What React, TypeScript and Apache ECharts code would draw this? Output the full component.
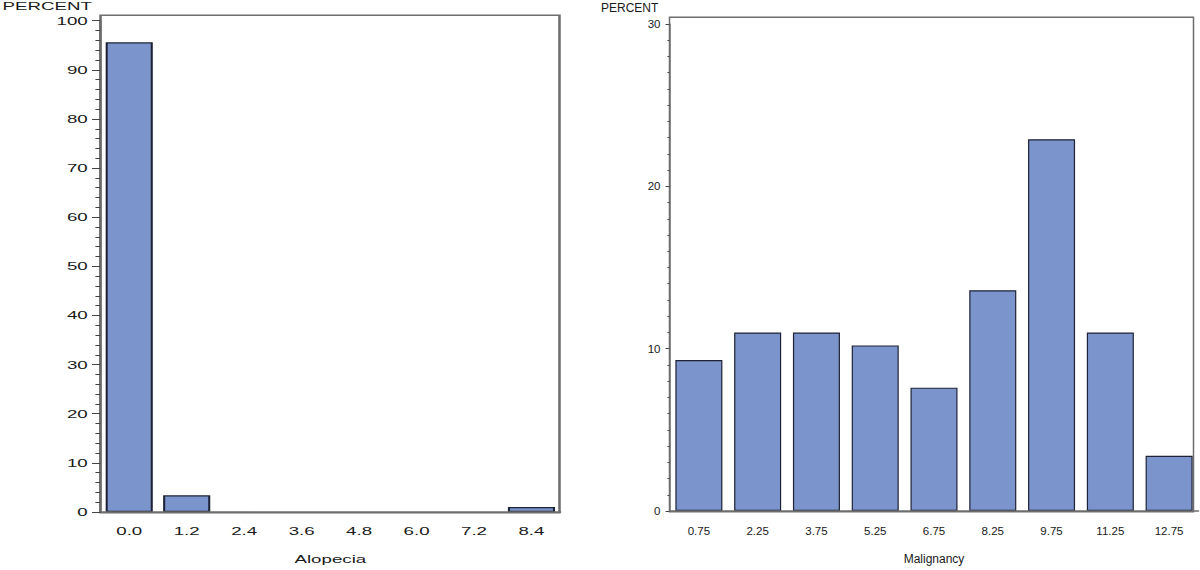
import React, { useEffect, useRef } from "react";
import * as echarts from "echarts";

const alopeciaBins = ["0.0", "1.2", "2.4", "3.6", "4.8", "6.0", "7.2", "8.4"];
const alopeciaPercent = [95.6, 3.4, 0, 0, 0, 0, 0, 1.0];
const malignancyBins = ["0.75", "2.25", "3.75", "5.25", "6.75", "8.25", "9.75", "11.25", "12.75"];
const malignancyPercent = [9.3, 11.0, 11.0, 10.2, 7.6, 13.6, 22.9, 11.0, 3.4];
const yTitle = "PERCENT";
const leftXTitle = "Alopecia";
const rightXTitle = "Malignancy";

const FONT = "'Liberation Sans', Arial, sans-serif";
const BAR_FILL = "#7b94cb";
const BAR_EDGE = "#1e2236";
const FRAME = "#6e6e6e";
const TEXT = "#1a1a1a";
const STRETCH = 1.7;

type Panel = {
  cats: string[];
  vals: number[];
  xName: string;
  yMax: number;
  interval: number;
  minorSplit: number;
  grid: { left: number; top: number; width: number; height: number };
  frame: { left: number; top: number; width: number; height: number };
  titlePos: { left: number; top: number };
  tickLen: number;
  minorLen: number;
  yLabelMargin: number;
  xLabelMargin: number;
  nameGap: number;
  gap: string;
  fontSize: number;
  tickFontSize: number;
};

function buildOption(p: Panel) {
  const ts = { fontFamily: FONT, fontSize: p.fontSize, color: TEXT };
  const tts = { fontFamily: FONT, fontSize: p.tickFontSize, color: TEXT };
  return {
    animation: false,
    title: {
      text: yTitle,
      left: p.titlePos.left,
      top: p.titlePos.top,
      padding: 0,
      textStyle: { ...ts, fontWeight: "normal" },
    },
    grid: [
      { ...p.grid, show: false, containLabel: false },
      { ...p.frame, show: true, borderColor: FRAME, borderWidth: 1.5, backgroundColor: "transparent" },
    ],
    xAxis: [
      {
        type: "category",
        gridIndex: 0,
        z: 5,
        data: p.cats,
        axisTick: { show: false },
        axisLine: { show: true, lineStyle: { color: FRAME, width: 1.5 } },
        axisLabel: { ...tts, margin: p.xLabelMargin, interval: 0 },
        name: p.xName,
        nameLocation: "middle",
        nameGap: p.nameGap,
        nameTextStyle: ts,
        splitLine: { show: false },
      },
      { type: "value", gridIndex: 1, show: false },
    ],
    yAxis: [
      {
        type: "value",
        gridIndex: 0,
        z: 5,
        min: 0,
        max: p.yMax,
        interval: p.interval,
        axisLine: { show: true, lineStyle: { color: FRAME, width: 1.5 } },
        axisTick: { show: true, length: p.tickLen, lineStyle: { color: "#444", width: 1 } },
        minorTick: { show: true, splitNumber: p.minorSplit, length: p.minorLen, lineStyle: { color: "#444", width: 1 } },
        splitLine: { show: false },
        minorSplitLine: { show: false },
        axisLabel: { ...tts, margin: p.yLabelMargin },
      },
      { type: "value", gridIndex: 1, show: false },
    ],
    series: [
      {
        type: "bar",
        xAxisIndex: 0,
        yAxisIndex: 0,
        data: p.vals.map((v) => (v === 0 ? { value: v, itemStyle: { borderWidth: 0, opacity: 0 } } : v)),
        barCategoryGap: p.gap,
        itemStyle: { color: BAR_FILL, borderColor: BAR_EDGE, borderWidth: 1.2 },
      },
    ],
  };
}

const leftPanel: Panel = {
  cats: alopeciaBins,
  vals: alopeciaPercent,
  xName: leftXTitle,
  yMax: 100,
  interval: 10,
  minorSplit: 5,
  grid: { left: 100.5 / STRETCH, top: 20.7, width: (560.2 - 100.5) / STRETCH, height: 492 },
  frame: { left: 100.5 / STRETCH, top: 15.3, width: (559.5 - 100.5) / STRETCH, height: 497.4 },
  titlePos: { left: 1.5, top: 1 },
  tickLen: 5,
  minorLen: 3,
  yLabelMargin: 7.5,
  xLabelMargin: 14,
  nameGap: 42,
  gap: "18%",
  fontSize: 11,
  tickFontSize: 11,
};

const RX = 580;
const rightPanel: Panel = {
  cats: malignancyBins,
  vals: malignancyPercent,
  xName: rightXTitle,
  yMax: 30,
  interval: 10,
  minorSplit: 10,
  grid: { left: 669.5 - RX, top: 24, width: 529, height: 487.7 },
  frame: { left: 669.5 - RX, top: 17.3, width: 524, height: 494.4 },
  titlePos: { left: 21, top: 2 },
  tickLen: 4,
  minorLen: 2,
  yLabelMargin: 9,
  xLabelMargin: 14,
  nameGap: 42,
  gap: "20%",
  fontSize: 12,
  tickFontSize: 11.5,
};

function Chart({ panel, style }: { panel: Panel; style: React.CSSProperties }) {
  const ref = useRef<HTMLDivElement>(null);
  useEffect(() => {
    if (!ref.current) return;
    const chart = echarts.init(ref.current, undefined, { renderer: "svg" });
    chart.setOption(buildOption(panel) as any);
    return () => chart.dispose();
  }, [panel]);
  return <div ref={ref} style={style} />;
}

export default function App() {
  return (
    <div style={{ position: "absolute", left: 0, top: 0, width: 1200, height: 570, background: "#fff", overflow: "hidden" }}>
      <Chart
        panel={leftPanel}
        style={{
          position: "absolute",
          left: 0,
          top: 0,
          width: 335,
          height: 570,
          transform: `scaleX(${STRETCH})`,
          transformOrigin: "0 0",
        }}
      />
      <Chart panel={rightPanel} style={{ position: "absolute", left: RX, top: 0, width: 620, height: 570 }} />
    </div>
  );
}
